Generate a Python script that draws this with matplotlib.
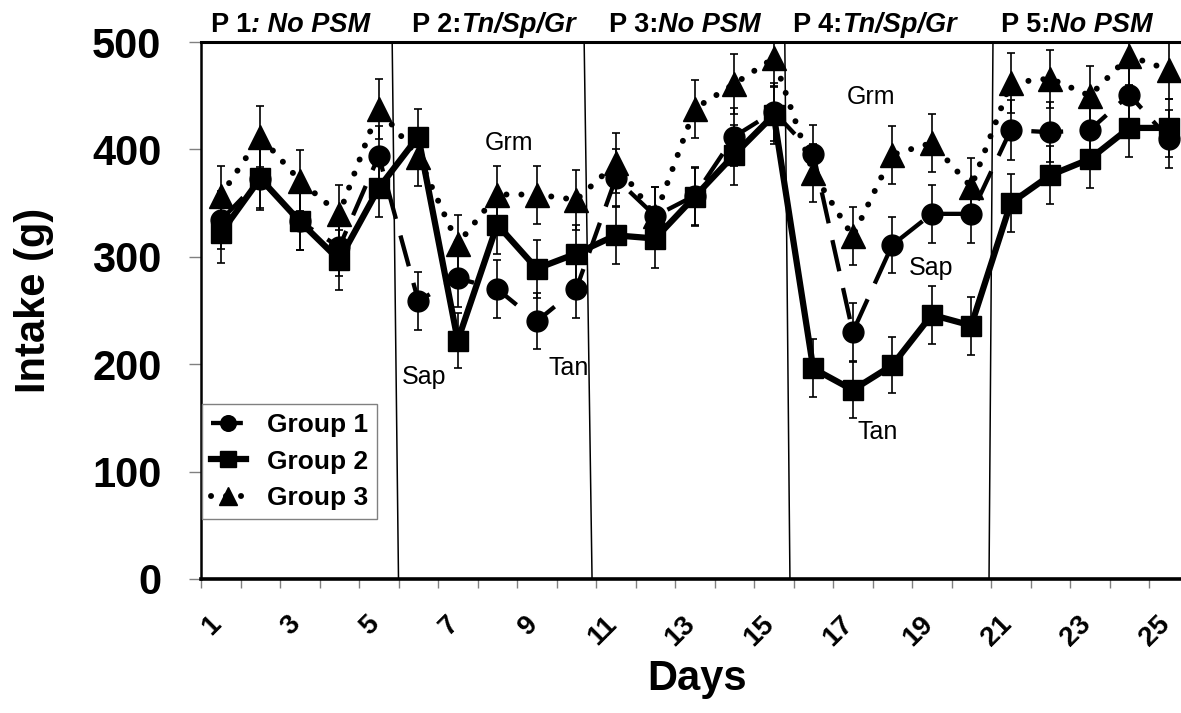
import matplotlib.pyplot as plt
import matplotlib.transforms as mtransforms
import numpy as np

plt.rcParams['font.family'] = ['Liberation Sans', 'DejaVu Sans']

# Daily intake (g) per group
days = list(range(1, 26))
group1 = [334, 372, 333, 309, 394, 259, 280, 270, 240, 270, 373, 338, 357, 412, 435,
          396, 230, 311, 340, 340, 418, 416, 418, 451, 410]
group2 = [322, 373, 333, 297, 364, 412, 222, 330, 289, 303, 320, 317, 356, 395, 432,
          196, 176, 199, 246, 236, 350, 376, 391, 420, 420]
group3 = [357, 412, 371, 340, 438, 393, 312, 358, 358, 353, 387, 338, 438, 461, 485,
          378, 319, 395, 406, 365, 462, 466, 450, 487, 474]
err1 = [27, 28, 27, 27, 28, 27, 27, 27, 26, 27, 27, 27, 27, 27, 27,
        27, 27, 26, 27, 27, 28, 28, 27, 27, 27]
err2 = [28, 28, 27, 28, 27, 26, 26, 27, 27, 27, 27, 27, 27, 28, 27,
        27, 26, 26, 27, 27, 27, 27, 27, 27, 27]
err3 = [28, 28, 28, 27, 28, 27, 27, 27, 27, 28, 28, 27, 27, 28, 27,
        27, 27, 27, 27, 27, 28, 27, 28, 27, 27]

period_num = ['P 1', 'P 2:', 'P 3:', 'P 4:', 'P 5:']
period_txt = [': No PSM', 'Tn/Sp/Gr', 'No PSM', 'Tn/Sp/Gr', 'No PSM']

fig = plt.figure(figsize=(11.81, 7.13), dpi=100)
W, H = 1181, 713
ax = fig.add_axes([201 / W, (H - 579) / H, 987.5 / W, 537 / H])

# error bars first, then the lines with markers
for y, e in [(group1, err1), (group2, err2), (group3, err3)]:
    ax.errorbar(days, y, yerr=e, fmt='none', ecolor='black', elinewidth=1.2,
                capsize=3, capthick=1.2, zorder=2)

ax.plot(days, group1, color='black', lw=3.1, linestyle=(0, (7.4, 4)),
        marker='o', markersize=15, label='Group 1', zorder=3)
ax.plot(days, group2, color='black', lw=4.5, linestyle='-',
        marker='s', markersize=15, label='Group 2', zorder=3)
ax.plot(days, group3, color='black', lw=4.3, linestyle=(0, (0.01, 2.5)),
        dash_capstyle='round', marker='^', markersize=17, label='Group 3', zorder=3)

# period separators (slightly slanted like in the original)
for xb, xt in [(5.5, 5.34), (10.4, 10.2), (15.41, 15.28), (20.45, 20.55)]:
    ax.plot([xb, xt], [0, 500], color='black', lw=1.1, zorder=1)

ax.set_xlim(0.5, 25.5)
ax.set_ylim(0, 500)

ax.set_yticks(np.arange(0, 501, 100))
ax.tick_params(axis='y', length=8.5, width=1, color='gray', pad=20,
               labelsize=30)
ax.set_xticks(np.arange(0.5, 26, 1))
ax.set_xticklabels([])
ax.tick_params(axis='x', which='major', length=6.5, width=1, color='gray')
ax.set_xticks(days[::2], minor=True)
ax.set_xticklabels([str(d) for d in days[::2]], minor=True)
ax.tick_params(axis='x', which='minor', length=0, pad=23, labelsize=20)
shift = mtransforms.ScaledTranslation(6 / 100, 0, fig.dpi_scale_trans)
for lab in ax.get_xticklabels(minor=True):
    lab.set_rotation(45)
    lab.set_ha('right')
    lab.set_va('top')
    lab.set_fontweight('bold')
    lab.set_transform(lab.get_transform() + shift)
for lab in ax.get_yticklabels():
    lab.set_fontweight('bold')

ax.spines['left'].set_linewidth(1.8)
ax.spines['top'].set_linewidth(2.2)
ax.spines['bottom'].set_linewidth(2.6)
ax.spines['right'].set_linewidth(2.2)

# labels of the compounds
notes = [('Grm', 8.30, 406), ('Sap', 6.15, 188), ('Tan', 9.80, 196),
         ('Grm', 17.47, 449), ('Sap', 18.99, 290), ('Tan', 17.62, 137)]
for txt, xx, yy in notes:
    ax.text(xx, yy, txt, fontsize=18, ha='center', va='center')

# period headers
head_x = [211, 412, 609, 793, 1001]
for px, a, b in zip(head_x, period_num, period_txt):
    t1 = fig.text(px / W, (H - 32) / H, a, fontsize=19.5, fontweight='bold',
                  ha='left', va='baseline')
    ax.annotate(b, xy=(1, 0), xycoords=t1, fontsize=19.5, fontweight='bold',
                fontstyle='italic', ha='left', va='bottom', annotation_clip=False)

fig.text(34 / W, (H - 300) / H, 'Intake (g)', fontsize=30, fontweight='bold',
         rotation=90, ha='center', va='center')
fig.text(697 / W, (H - 679) / H, 'Days', fontsize=30, fontweight='bold',
         ha='center', va='center')

leg = ax.legend(loc='upper left', bbox_to_anchor=(202 / W, (H - 404) / H),
                bbox_transform=fig.transFigure, borderaxespad=0, frameon=True,
                fancybox=False, edgecolor='gray', framealpha=1,
                prop={'size': 19, 'weight': 'bold'}, handlelength=1.3,
                handletextpad=0.8, labelspacing=0.47, markerscale=0.75,
                borderpad=0.35)
leg.get_frame().set_linewidth(1)

fig.savefig('out.png', dpi=100)
